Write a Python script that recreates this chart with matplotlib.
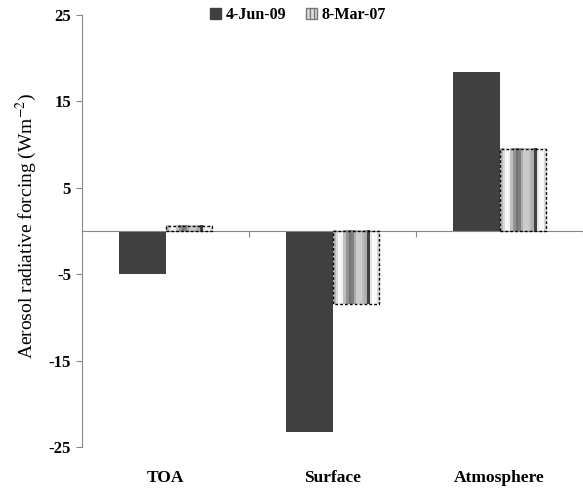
import matplotlib
matplotlib.use('Agg')
import matplotlib.pyplot as plt
import matplotlib.transforms as mtransforms
import numpy as np
from matplotlib.patches import Patch

# data
categories = ['TOA', 'Surface', 'Atmosphere']
series_names = ['4-Jun-09', '8-Mar-07']
jun09 = [-5.0, -23.3, 18.4]
mar07 = [0.6, -8.5, 9.5]
y_ticks = [-25, -15, -5, 5, 15, 25]

plt.rcParams['font.family'] = 'Liberation Serif'
plt.rcParams['mathtext.fontset'] = 'stix'

fig = plt.figure(figsize=(5.83, 4.91), dpi=100)
ax = fig.add_axes([0.1407, 0.0896, 0.8593, 0.88])

x = np.arange(len(categories))
w = 0.28
ax.bar(x - w / 2, jun09, w, color='#404040', zorder=2)
bars = ax.bar(x + w / 2, mar07, w, facecolor='none', edgecolor='black',
              linestyle=(0, (2, 1.5)), linewidth=1.0, zorder=3)

# cylinder-like grey stripes inside the second series
stripes = np.array([0.72, 0.85, 0.97, 0.95, 0.75, 0.58, 0.45, 0.5, 0.68,
                    0.8, 0.8, 0.74, 0.68, 0.25, 0.9, 0.98, 0.97, 0.85]).reshape(1, -1)
for b in bars:
    x0, y0 = b.get_x(), b.get_y()
    bw, bh = b.get_width(), b.get_height()
    ax.imshow(stripes, cmap='gray', vmin=0, vmax=1, aspect='auto',
              interpolation='nearest', extent=(x0, x0 + bw, y0, y0 + bh), zorder=2)

ax.set_xlim(-0.5, 2.5)
ax.set_ylim(-25, 25)

for s in ['top', 'right']:
    ax.spines[s].set_visible(False)
ax.spines['bottom'].set_position(('data', 0))
ax.spines['bottom'].set_color('#888888')
ax.spines['left'].set_color('#888888')

ax.set_xticks([0.5, 1.5, 2.5])
ax.set_xticklabels([])
ax.tick_params(axis='x', direction='out', length=4, color='#888888')
ax.set_yticks(y_ticks)
ax.set_yticklabels([str(t) for t in y_ticks], fontweight='bold', fontsize=12)
ax.tick_params(axis='y', direction='out', length=4, color='#888888', pad=4)

trans = mtransforms.blended_transform_factory(ax.transData, ax.transAxes)
for i, c in enumerate(categories):
    ax.text(i, -0.072, c, transform=trans, ha='center', va='center',
            fontweight='bold', fontsize=12.5)

fig.text(26 / 583, 1 - 226 / 491, 'Aerosol radiative forcing (Wm$^{-2}$)',
         rotation=90, ha='center', va='center', fontsize=14)

h1 = Patch(facecolor='#404040', edgecolor='#404040')
h2 = Patch(facecolor='#dddddd', edgecolor='#777777', hatch='||||')
fig.legend([h1, h2], series_names, loc='center', bbox_to_anchor=(298 / 583, 1 - 15 / 491),
           ncol=2, frameon=False, handlelength=0.7, handleheight=0.7,
           handletextpad=0.3, columnspacing=1.2, prop={'weight': 'bold', 'size': 11.5})

fig.savefig('out.png', dpi=100)
